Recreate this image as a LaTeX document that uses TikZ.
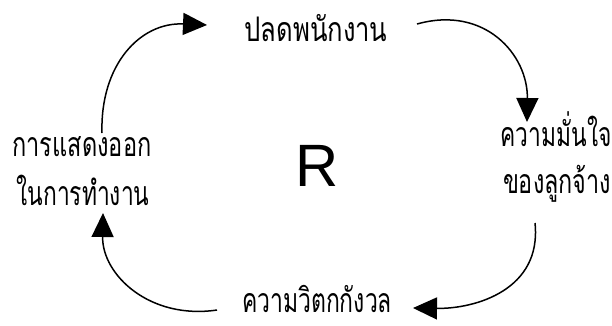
\documentclass[tikz,border=0pt]{standalone}
\usepackage{fontspec}
\newfontfamily\thaifont[Script=Thai]{Loma}
\newfontfamily\rfont{Liberation Sans}
\usetikzlibrary{arrows.meta}
\newcommand{\fitw}[2]{\resizebox{#1}{\height}{#2}}
\begin{document}
\begin{tikzpicture}[x=1bp,y=-1bp,
  thai/.style={font=\thaifont\fontsize{34}{38}\selectfont, inner sep=0pt, anchor=base},
  flow/.style={line width=1.5bp, -{Triangle[length=24bp,width=22bp]}}]
\useasboundingbox (0,0) rectangle (612,325);
\node[thai] (top) at (316,41) {\fitw{143bp}{ปลดพนักงาน}};
\node[thai] (r1) at (556,146) {\fitw{111bp}{ความมั่นใจ}};
\node[thai] (r2) at (557,193) {\fitw{108bp}{ของลูกจ้าง}};
\node[thai] (bot) at (317,312) {\fitw{150bp}{ความวิตกกังวล}};
\node[thai] (l1) at (82,156) {\fitw{139bp}{การแสดงออก}};
\node[thai] (l2) at (83,205) {\fitw{133bp}{ในการทำงาน}};
\node[font=\rfont\fontsize{60}{64}\selectfont, inner sep=0pt, anchor=base] (R) at (317,186) {R};
\coordinate (a1s) at (102,133);
\coordinate (a1e) at (207,25);
\coordinate (a2s) at (417,24);
\coordinate (a2e) at (527,122);
\coordinate (a3s) at (535,223);
\coordinate (a3e) at (413,308);
\coordinate (a4s) at (217,310);
\coordinate (a4e) at (103,213);
\draw[flow] (a1s) .. controls (100,65) and (140,22) .. (a1e);
\draw[flow] (a2s) .. controls (485,5) and (528,55) .. (a2e);
\draw[flow] (a3s) .. controls (542,290) and (475,309) .. (a3e);
\draw[flow] (a4s) .. controls (150,320) and (102,275) .. (a4e);
\end{tikzpicture}
\end{document}
